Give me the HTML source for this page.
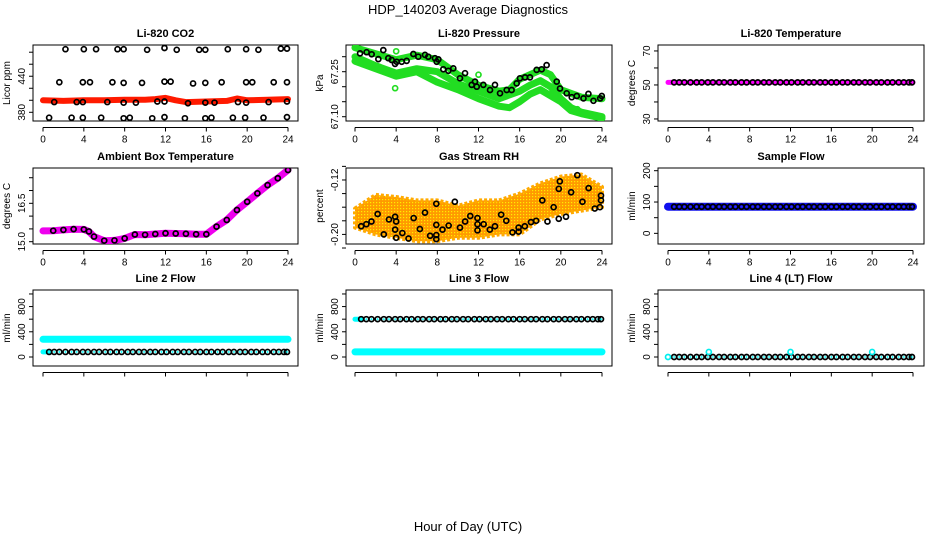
<!DOCTYPE html>
<html><head><meta charset="utf-8">
<style>
html,body{margin:0;padding:0;background:#fff;}
svg{display:block;font-family:"Liberation Sans",sans-serif;}
</style></head>
<body>
<svg id="chart" width="936" height="540" viewBox="0 0 936 540" xmlns="http://www.w3.org/2000/svg">
<defs>
<pattern id="rhpat" width="3" height="3" patternUnits="userSpaceOnUse">
<rect width="3" height="3" fill="#ff9a00"/><rect x="1" y="1" width="1.2" height="1.2" fill="#ffee00"/>
</pattern>
</defs>
<text x="468" y="14" text-anchor="middle" font-size="13">HDP_140203  Average Diagnostics</text>
<text x="468" y="531" text-anchor="middle" font-size="13">Hour of Day (UTC)</text>
</svg>
<script>
// ---------- data ----------
const xTicks = [0,4,8,12,16,20,24];
const sampleHours = [0.6,1.1,1.6,2.2,2.8,3.3,3.9,4.4,5.0,5.5,6.1,6.6,7.2,7.7,8.3,8.8,9.4,9.9,10.5,11.0,11.6,12.1,12.7,13.2,13.8,14.3,14.9,15.4,16.0,16.5,17.1,17.6,18.2,18.7,19.3,19.8,20.4,20.9,21.5,22.0,22.6,23.1,23.6,23.9];

// CO2
const co2BandHours = [0,2,4,6,8,10,11,12,13,14,16,18,19,20,22,24];
const co2BandVals  = [400,399,400,400,401,401,402,404,400,397,398,399,403,400,401,402];
const co2HighHours = [2.2,4,5.2,7.3,7.9,10.2,11.9,13.1,15.3,15.9,18.1,19.9,21.1,23.3,23.9];
const co2HighVals  = [485,485,485,485,485,484,487,484,484,484,485,485,484,486,486];
const co2MidHours  = [1.6,3.9,4.6,6.8,7.9,9.7,11.9,12.5,14.7,15.9,17.5,19.9,20.5,22.6,23.9];
const co2MidVals   = [430,430,430,430,429,429,431,431,428,429,430,430,430,430,430];
const co2LowHours  = [1.1,3.3,3.9,6.3,7.9,9.1,11.2,11.9,14.2,15.9,16.8,19.1,19.9,22.1,23.9];
const co2LowVals   = [397,397,397,397,396,396,398,398,395,396,396,397,396,397,398];
const co2MinHours  = [0.6,2.8,3.9,5.7,7.9,8.5,10.7,11.9,13.9,15.9,16.5,18.6,19.8,21.6,23.9];
const co2MinVals   = [371,371,371,371,370,371,370,372,370,370,371,371,371,371,372];

// Pressure
const presG1Hours = [0,2,4,6,8,10,12,14,15,16,18,19,20,22,24];
const presG1Vals  = [67.33,67.31,67.29,67.305,67.29,67.24,67.205,67.185,67.19,67.225,67.255,67.24,67.19,67.165,67.16];
const presG2Hours = [0,2,4,6,8,10,12,14,16,17,18,19,20,21,22,24];
const presG2Vals  = [67.30,67.27,67.245,67.26,67.25,67.21,67.185,67.16,67.185,67.205,67.22,67.2,67.16,67.13,67.115,67.10];
const presG3Hours = [0,2,4,6,8,10,12,14,15,16,17,18,19,20,21,22,24];
const presG3Vals  = [67.285,67.26,67.235,67.25,67.215,67.19,67.16,67.135,67.13,67.15,67.175,67.19,67.17,67.15,67.12,67.11,67.095];
const presBlkHours = [0.49,1.13,1.62,2.27,2.75,3.24,3.56,3.89,4.05,4.54,5.02,5.67,6.15,6.8,7.12,7.77,7.94,8.1,8.58,9.07,9.55,10.2,10.69,11.34,11.66,11.83,12.47,13.12,13.6,14.09,14.74,15.22,15.71,16.03,16.52,17.0,17.65,18.14,18.62,19.6,19.92,20.57,21.06,21.55,22.2,22.68,23.17,23.82,23.98];
const presBlkVals  = [67.311,67.315,67.308,67.292,67.322,67.295,67.289,67.276,67.283,67.283,67.286,67.309,67.30,67.306,67.30,67.295,67.283,67.291,67.258,67.253,67.261,67.228,67.245,67.206,67.217,67.2,67.206,67.189,67.206,67.178,67.189,67.189,67.211,67.228,67.231,67.231,67.256,67.258,67.272,67.217,67.194,67.178,67.165,67.169,67.161,67.176,67.153,67.161,67.169];
const presOutHours = [3.7,3.9,4.0,12.0,21.6];
const presOutVals  = [67.245,67.195,67.318,67.24,67.125];

// Li-820 temperature
const tempLevel = 51.5;
// Ambient box temperature
const boxHours = [0,1,2,3,4,4.5,5,6,7,8,9,10,11,12,13,14,15,16,17,18,19,20,21,22,23,24];
const boxVals  = [15.42,15.43,15.46,15.49,15.48,15.4,15.2,15.04,15.05,15.13,15.28,15.27,15.3,15.33,15.32,15.31,15.29,15.29,15.59,15.85,16.24,16.56,16.89,17.21,17.48,17.8];

// RH
const rhHours = [0,2,4,6,8,10,12,14,16,18,20,22,24];
const rhUpper = [-0.162,-0.142,-0.145,-0.15,-0.15,-0.158,-0.15,-0.15,-0.14,-0.125,-0.115,-0.112,-0.13];
const rhLower = [-0.19,-0.20,-0.205,-0.21,-0.21,-0.205,-0.205,-0.20,-0.20,-0.178,-0.17,-0.165,-0.16];
const rhBlkHours = [0.6,1.1,1.6,2.2,2.8,3.3,3.9,3.9,4.0,4.0,4.6,5.2,5.7,6.3,6.8,7.3,7.9,7.9,7.9,7.9,8.5,9.1,9.7,10.2,10.7,11.2,11.9,11.9,11.9,12.5,13.1,13.6,14.2,14.7,15.3,15.9,15.9,16.5,17.1,17.6,18.2,18.7,19.3,19.8,19.8,19.9,20.5,21.0,21.6,22.1,22.7,23.3,23.8,23.9,23.9];
const rhBlkVals  = [-0.188,-0.185,-0.181,-0.170,-0.200,-0.178,-0.174,-0.193,-0.181,-0.205,-0.198,-0.206,-0.176,-0.192,-0.168,-0.202,-0.186,-0.201,-0.207,-0.155,-0.193,-0.187,-0.152,-0.190,-0.181,-0.173,-0.176,-0.185,-0.194,-0.185,-0.193,-0.188,-0.171,-0.180,-0.197,-0.196,-0.190,-0.188,-0.182,-0.180,-0.150,-0.181,-0.160,-0.177,-0.133,-0.122,-0.174,-0.138,-0.113,-0.152,-0.132,-0.162,-0.160,-0.150,-0.143];

// Flows
const sampleFlowLevel = 85;
const line2CyanLevel = 280;
const line2BlackLevel = 80;
const line3BlackLevel = 600;
const line3CyanLevel = 80;
const line4BlackLevel = 0;
const line4SpikeHours = [0,4,12,20];
const line4SpikeVals  = [0,80,80,80];

// ---------- layout ----------
const svg = document.getElementById('chart');
const NS = 'http://www.w3.org/2000/svg';
function mk(tag, attrs, parent){
  const e = document.createElementNS(NS, tag);
  for (const k in attrs) e.setAttribute(k, attrs[k]);
  (parent||svg).appendChild(e);
  return e;
}
const cols = [{L:33,R:298,x0:43,x24:288},{L:346,R:612,x0:355,x24:602},{L:658,R:924,x0:668,x24:913}];
const rows = [{T:45,B:121},{T:168,B:244},{T:290,B:366}];

function panel(ci, ri, title, ylab, yMin, yMax, yTicks, yLabels, fmt){
  const c = cols[ci], r = rows[ri];
  const g = mk('g', {});
  
  
  const sx = h => c.x0 + (c.x24 - c.x0) * h / 24;
  const sy = v => r.B - (v - yMin) / (yMax - yMin) * (r.B - r.T);
  const t = mk('text', {x:(c.L+c.R)/2, y:r.T-8, 'text-anchor':'middle', 'font-size':11, 'font-weight':'bold'}, g);
  t.textContent = title;
  
  
  const box = mk('rect', {x:c.L, y:r.T, width:c.R-c.L, height:r.B-r.T, fill:'none', stroke:'#000', 'stroke-width':1}, g);
  
  
  const ax = mk('g', {}, g);
  
  
  const ay0 = r.B + 6.5;
  mk('line', {x1:sx(0), x2:sx(24), y1:ay0, y2:ay0, stroke:'#000'}, ax);
  xTicks.forEach(h => {
    mk('line', {x1:sx(h), x2:sx(h), y1:ay0, y2:ay0+4, stroke:'#000'}, ax);
    if (ri < 2) {
      const lt = mk('text', {x:sx(h), y:ay0+15, 'text-anchor':'middle', 'font-size':10}, ax);
      lt.textContent = h;
      
      
    }
  });
  const ay = mk('g', {}, g);
  
  
  yTicks.forEach(v => {
    const y = sy(v);
    mk('line', {x1:c.L-4, x2:c.L, y1:y, y2:y, stroke:'#000'}, ay);
  });
  yLabels.forEach(v => {
    const y = sy(v);
    const lt = mk('text', {x:c.L-8, y:y, 'text-anchor':'middle', 'font-size':10, transform:`rotate(-90 ${c.L-8} ${y})`}, ay);
    lt.textContent = fmt ? fmt(v) : v;
    
    
  });
  const yl = mk('text', {x:c.L-23, y:(r.T+r.B)/2, 'text-anchor':'middle', 'font-size':10, transform:`rotate(-90 ${c.L-23} ${(r.T+r.B)/2})`}, g);
  yl.textContent = ylab;
  
  
  const clip = 'clip' + ci + ri;
  const cp = mk('clipPath', {id:clip}, g);
  mk('rect', {x:c.L, y:r.T, width:c.R-c.L, height:r.B-r.T}, cp);
  const data = mk('g', {'clip-path':`url(#${clip})`}, g);
  
  
  return {sx, sy, g:data};
}
function band(p, hs, vs, color, w, name){
  const pts = hs.map((h,i) => p.sx(h).toFixed(1)+','+p.sy(vs[i]).toFixed(1)).join(' ');
  const e = mk('polyline', {points:pts, fill:'none', stroke:color, 'stroke-width':w, 'stroke-linejoin':'round', 'stroke-linecap':'round'}, p.g);
  
  
}
function pts(p, hs, vs, stroke, inner, name){
  hs.forEach((h,i) => {
    const x = p.sx(h), y = p.sy(vs[i]);
    const c = mk('circle', {cx:x, cy:y, r:2.5, fill:'none', stroke:stroke, 'stroke-width':1.7}, p.g);
    
    
    if (inner) {
      mk('path', {d:`M${x-1.2} ${y}H${x+1.2}M${x} ${y-1.2}V${y+1.2}`, stroke:inner, 'stroke-width':0.8}, p.g);
    }
  });
}
const flat = (n, v) => Array(n).fill(v);

// 1 CO2
let p = panel(0,0,'Li-820 CO2','Licor ppm',365.5,492,[380,400,420,440,460,480],[380,440]);
band(p, co2BandHours, co2BandVals, '#ff1a00', 6, 'co2-band');
pts(p, co2HighHours, co2HighVals, '#000', null, 'co2-point');
pts(p, co2MidHours, co2MidVals, '#000', null, 'co2-point');
pts(p, co2LowHours, co2LowVals, '#000', null, 'co2-point');
pts(p, co2MinHours, co2MinVals, '#000', null, 'co2-point');

// 2 Pressure
p = panel(1,0,'Li-820 Pressure','kPa',67.0857,67.339,[67.10,67.15,67.20,67.25,67.30],[67.10,67.25], v=>v.toFixed(2));
band(p, presG1Hours, presG1Vals, '#22dd22', 7, 'pressure-green-band');
band(p, presG2Hours, presG2Vals, '#22dd22', 7, 'pressure-green-band');
band(p, presG3Hours, presG3Vals, '#22dd22', 7, 'pressure-green-band');
pts(p, presOutHours, presOutVals, '#22dd22', null, 'pressure-green-point');
pts(p, presBlkHours, presBlkVals, '#000', null, 'pressure-point');

// 3 Li-820 temperature
p = panel(2,0,'Li-820 Temperature','degrees C',28.8,73.5,[30,40,50,60,70],[30,50,70]);
band(p, [0,24], [tempLevel,tempLevel], '#ff00ff', 5, 'temperature-band');
pts(p, sampleHours, flat(sampleHours.length, tempLevel), '#000', '#ff00ff', 'temperature-point');

// 4 Ambient box temperature
p = panel(0,1,'Ambient Box Temperature','degrees C',14.91,17.88,[15,15.5,16,16.5,17,17.5],[15,16.5], v=>v.toFixed(1));
band(p, boxHours, boxVals, '#ee00ee', 7, 'box-temperature-band');
pts(p, boxHours.slice(1), boxVals.slice(1), '#000', '#ff00ff', 'box-temperature-point');

// 5 RH
p = panel(1,1,'Gas Stream RH','percent',-0.2141,-0.1024,[-0.22,-0.20,-0.18,-0.16,-0.14,-0.12,-0.10],[-0.20,-0.12], v=>v.toFixed(2));
{
  const up = rhHours.map((h,i)=>p.sx(h).toFixed(1)+','+p.sy(rhUpper[i]).toFixed(1));
  const lo = rhHours.map((h,i)=>p.sx(h).toFixed(1)+','+p.sy(rhLower[i]).toFixed(1)).reverse();
  const e = mk('polygon', {points:up.concat(lo).join(' '), fill:'url(#rhpat)', stroke:'#ffaa00', 'stroke-width':4, 'stroke-linejoin':'round', 'stroke-dasharray':'3 2'}, p.g);
  
  
}
pts(p, rhBlkHours, rhBlkVals, '#000', null, 'rh-point');

// 6 Sample flow
p = panel(2,1,'Sample Flow','ml/min',-34,208.6,[0,50,100,150,200],[0,100,200]);
band(p, [0,24], [sampleFlowLevel,sampleFlowLevel], '#1010ee', 8, 'sample-flow-band');
pts(p, sampleHours, flat(sampleHours.length, sampleFlowLevel), '#000', '#3030ff', 'sample-flow-point');

// 7 Line 2
const flowTicks=[0,200,400,600,800,1000], flowLabels=[0,400,800];
p = panel(0,2,'Line 2 Flow','ml/min',-143,1063,flowTicks,flowLabels);
band(p, [0,24], [line2CyanLevel,line2CyanLevel], '#00ffff', 7, 'line2-cyan-band');
band(p, [0,0.6], [line2BlackLevel,line2BlackLevel], '#00ffff', 5, 'line2-cyan-start');
pts(p, sampleHours, flat(sampleHours.length, line2BlackLevel), '#000', '#00ffff', 'line2-point');

// 8 Line 3
p = panel(1,2,'Line 3 Flow','ml/min',-143,1063,flowTicks,flowLabels);
band(p, [0,24], [line3CyanLevel,line3CyanLevel], '#00ffff', 7, 'line3-cyan-band');
band(p, [0,0.6], [line3BlackLevel,line3BlackLevel], '#00ffff', 5, 'line3-cyan-start');
pts(p, sampleHours, flat(sampleHours.length, line3BlackLevel), '#000', '#00ffff', 'line3-point');

// 9 Line 4
p = panel(2,2,'Line 4 (LT) Flow','ml/min',-143,1063,flowTicks,flowLabels);
pts(p, sampleHours, flat(sampleHours.length, line4BlackLevel), '#000', '#00ffff', 'line4-point');
pts(p, line4SpikeHours, line4SpikeVals, '#00eeee', null, 'line4-cyan-point');
</script>
</body></html>
